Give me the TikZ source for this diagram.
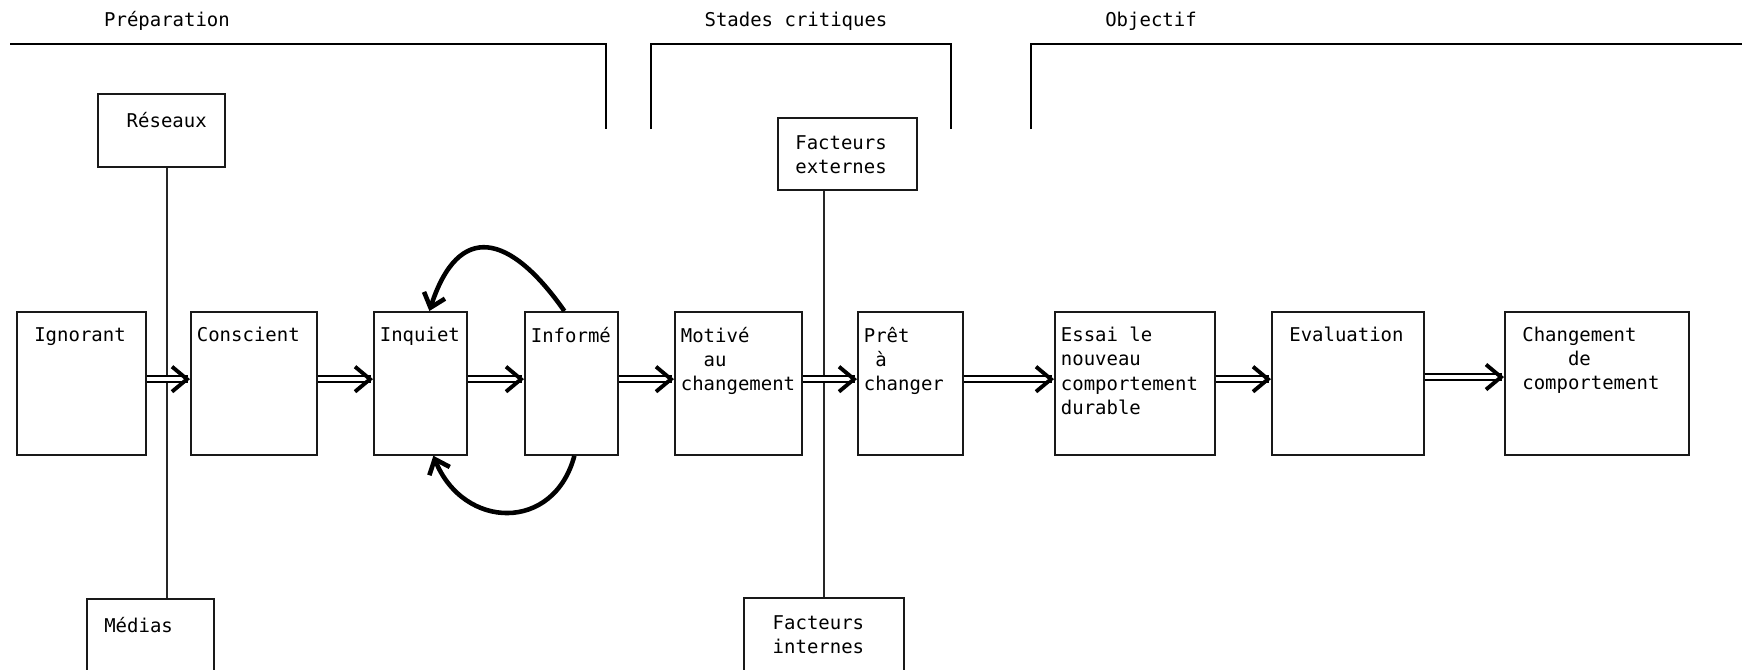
\documentclass[tikz,border=0pt]{standalone}
\usepackage{fontspec}
\setmonofont{DejaVu Sans Mono}
\usetikzlibrary{arrows.meta}

% boite a texte calee en haut : largeur, hauteur, marge haute, texte
\newcommand{\cadre}[4]{\parbox[t][#2][t]{#1}{\vspace*{#3}\raggedright#4}}

\begin{document}
\begin{tikzpicture}[font=\ttfamily\fontsize{5.4pt}{6.85pt}\selectfont,
  boite/.style={draw=black!90, line width=0.5pt, anchor=north west, inner xsep=0.06cm, inner ysep=0pt},
  fleche/.style={draw=white, line width=0.035cm,
        -{Straight Barb[color=black, length=0.15cm, width=0.25cm, line width=1.1pt]},
        preaction={draw=black, arrows=-, double=white, double distance=0.035cm, line width=0.7pt, shorten >=0.6pt}},
  boucle/.style={line width=1.3pt, -{Straight Barb[length=0.13cm, width=0.22cm]}},
  lien/.style={draw=black!85, line width=0.5pt},
  phase/.style={line width=0.8pt},
  titre/.style={anchor=center},
]
  \useasboundingbox (0,0) rectangle (17.42,6.69);
  \clip (0,0) rectangle (17.42,6.69);

  % les trois phases
  \node[titre] (prep) at (1.67,6.48) {Préparation};
  \node[titre] (stades) at (7.96,6.48) {Stades critiques};
  \node[titre] (obj) at (11.51,6.48) {Objectif};
  \draw[phase] (0.10,6.25) -- (6.06,6.25) -- (6.06,5.40);
  \draw[phase] (6.51,5.40) -- (6.51,6.25) -- (9.51,6.25) -- (9.51,5.40);
  \draw[phase] (10.31,5.40) -- (10.31,6.25) -- (17.42,6.25);

  % etapes
  \node[boite] (ign) at (0.16,3.58) {\cadre{1.17cm}{1.43cm}{0.155cm}{\hphantom{I}Ignorant}};
  \node[boite] (consc) at (1.90,3.58) {\cadre{1.14cm}{1.43cm}{0.155cm}{Conscient}};
  \node[boite] (inq) at (3.73,3.58) {\cadre{0.81cm}{1.43cm}{0.155cm}{Inquiet}};
  \node[boite] (inf) at (5.24,3.58) {\cadre{0.81cm}{1.43cm}{0.155cm}{Informé}};
  \node[boite] (mot) at (6.74,3.58) {\cadre{1.15cm}{1.43cm}{0.155cm}{Motivé\\\hphantom{aa}au\\changement}};
  \node[boite] (pret) at (8.57,3.58) {\cadre{0.93cm}{1.43cm}{0.155cm}{Prêt\\\hphantom{a}à\\changer}};
  \node[boite] (essai) at (10.54,3.58) {\cadre{1.48cm}{1.43cm}{0.155cm}{Essai le\\nouveau\\comportement\\durable}};
  \node[boite] (eval) at (12.71,3.58) {\cadre{1.40cm}{1.43cm}{0.155cm}{\hphantom{a}Evaluation}};
  \node[boite] (chg) at (15.04,3.58) {\cadre{1.72cm}{1.43cm}{0.155cm}{\hphantom{a}Changement\\\hphantom{aaaaa}de\\\hphantom{a}comportement}};

  % influences
  \node[boite] (res) at (0.97,5.76) {\cadre{1.15cm}{0.73cm}{0.18cm}{\hphantom{aa}Réseaux}};
  \node[boite] (med) at (0.86,0.71) {\cadre{1.15cm}{0.76cm}{0.18cm}{\hphantom{a}Médias}};
  \node[boite] (ext) at (7.77,5.52) {\cadre{1.27cm}{0.72cm}{0.18cm}{\hphantom{a}Facteurs\\\hphantom{a}externes}};
  \node[boite] (int) at (7.43,0.72) {\cadre{1.48cm}{0.77cm}{0.18cm}{\hphantom{aa}Facteurs\\\hphantom{aa}internes}};

  \coordinate (axe1) at (1.67,0);
  \coordinate (axe2) at (8.24,0);
  \draw[lien] (res.south -| axe1) -- (med.north -| axe1);
  \draw[lien] (ext.south -| axe2) -- (int.north -| axe2);

  \draw[fleche] ([yshift=1.2pt]ign.east) -- ([yshift=1.2pt]consc.west);
  \draw[fleche] ([yshift=1.2pt]consc.east) -- ([yshift=1.2pt]inq.west);
  \draw[fleche] ([yshift=1.2pt]inq.east) -- ([yshift=1.2pt]inf.west);
  \draw[fleche] ([yshift=1.2pt]inf.east) -- ([yshift=1.2pt]mot.west);
  \draw[fleche] ([yshift=1.2pt]mot.east) -- ([yshift=1.2pt]pret.west);
  \draw[fleche] ([yshift=1.2pt]pret.east) -- ([yshift=1.2pt]essai.west);
  \draw[fleche] ([yshift=1.2pt]essai.east) -- ([yshift=1.2pt]eval.west);
  \draw[fleche] ([yshift=1.8pt]eval.east) -- ([yshift=1.8pt]chg.west);

  \draw[boucle] ([xshift=-0.07cm]inf.north) to[out=125, in=72, looseness=1.8] ([xshift=0.09cm]inq.north);
  \draw[boucle] ([xshift=0.03cm]inf.south) to[out=-105, in=-68, looseness=1.45] ([xshift=0.13cm]inq.south);
\end{tikzpicture}
\end{document}
